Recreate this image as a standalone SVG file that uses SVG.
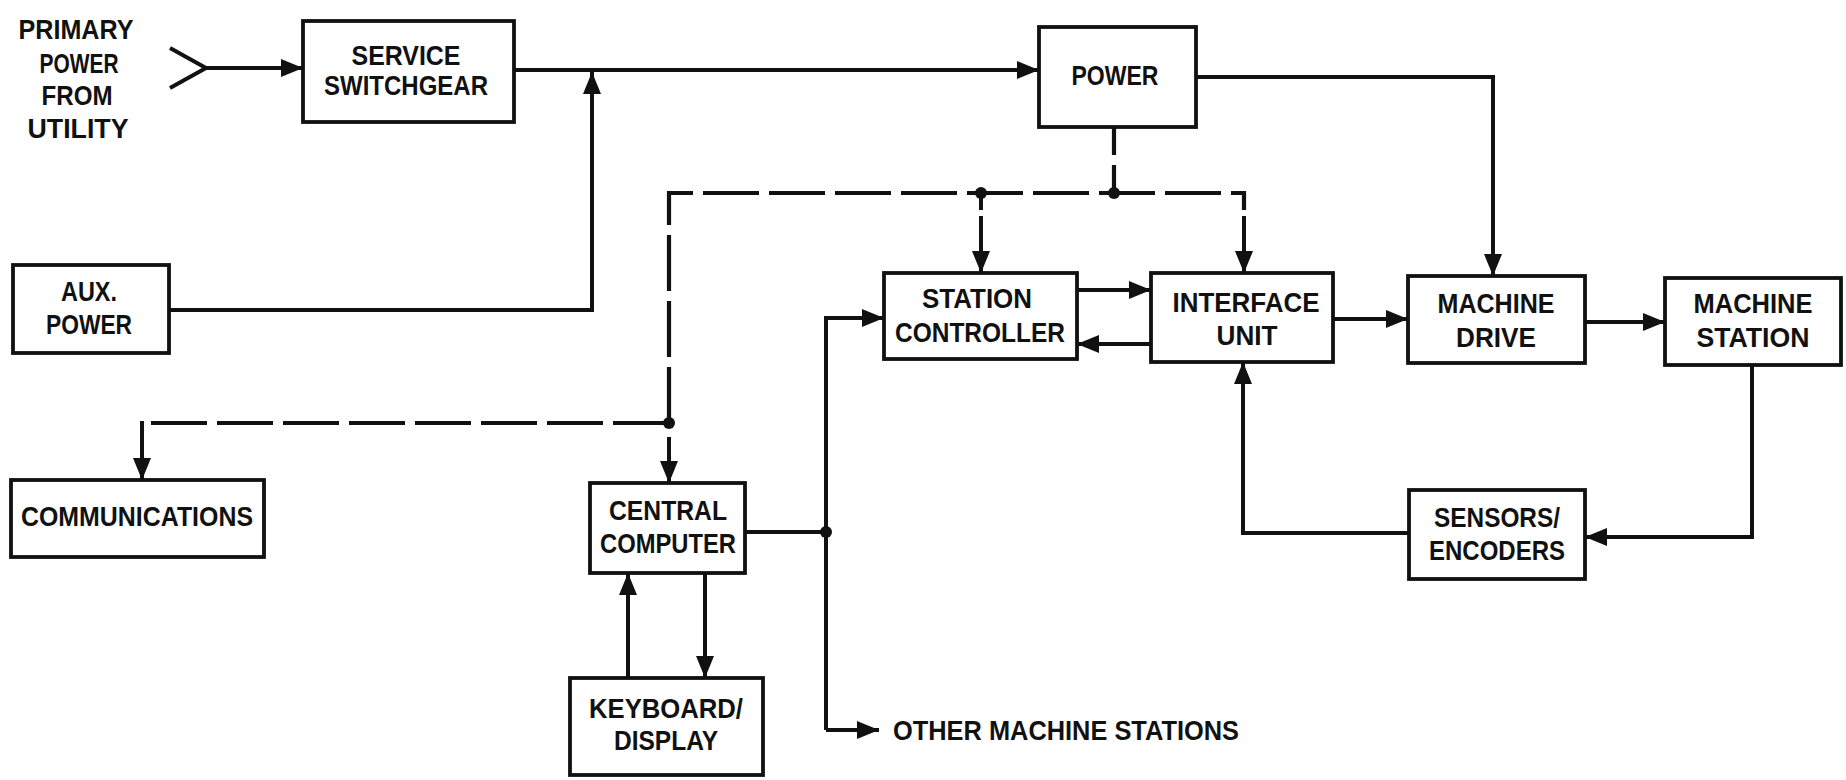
<svg xmlns="http://www.w3.org/2000/svg" width="1846" height="780" viewBox="0 0 1846 780">
<style>
.box{fill:#fff;stroke:#111;stroke-width:3.8}
.ln{fill:none;stroke:#111;stroke-width:4;stroke-linejoin:miter}
.dash{fill:none;stroke:#111;stroke-width:4.2;stroke-dasharray:56 10}
.t{font-family:"Liberation Sans",Arial,sans-serif;font-weight:bold;font-size:28px;fill:#111;text-anchor:middle}
.dot{fill:#111}
</style>
<defs>
<marker id="ah" viewBox="0 0 22 18" refX="22" refY="9" markerWidth="22" markerHeight="18" markerUnits="userSpaceOnUse" orient="auto">
<path d="M0,0 L22,9 L0,18 z" fill="#111"/>
</marker>
</defs>
<rect width="1846" height="780" fill="#fff"/>

<g id="connectors">
<path class="ln" d="M170,48 L206,68 L170,88"/>
<path class="ln" d="M206,68 H303" marker-end="url(#ah)"/>
<path class="ln" d="M514,70 H1039" marker-end="url(#ah)"/>
<path class="ln" d="M169,310 H592 V72" marker-end="url(#ah)"/>
<path class="ln" d="M1196,77 H1493 V276" marker-end="url(#ah)"/>
<path class="ln" d="M1077,290 H1151" marker-end="url(#ah)"/>
<path class="ln" d="M1151,344 H1077" marker-end="url(#ah)"/>
<path class="ln" d="M1333,319 H1408" marker-end="url(#ah)"/>
<path class="ln" d="M1585,322 H1665" marker-end="url(#ah)"/>
<path class="ln" d="M1752,365 V537 H1585" marker-end="url(#ah)"/>
<path class="ln" d="M1409,533 H1243 V362" marker-end="url(#ah)"/>
<path class="ln" d="M745,532 H826"/>
<path class="ln" d="M826,730 V318 H884" marker-end="url(#ah)"/>
<path class="ln" d="M826,730 H879" marker-end="url(#ah)"/>
<path class="ln" d="M705,573 V678" marker-end="url(#ah)"/>
<path class="ln" d="M628,678 V573" marker-end="url(#ah)"/>
<path class="dash" style="stroke-dasharray:28 10" d="M1114,127 V193"/>
<path class="dash" d="M669,423 V193 H1244 V210"/>
<path class="ln" d="M1244,216 V273" marker-end="url(#ah)"/>
<path class="ln" d="M981,193 V210"/>
<path class="ln" d="M981,216 V273" marker-end="url(#ah)"/>
<path class="dash" d="M669,423 H142"/>
<path class="ln" d="M142,421 V480" marker-end="url(#ah)"/>
<path class="ln" d="M669,437 V483" marker-end="url(#ah)"/>
<circle class="dot" cx="1114" cy="193" r="6"/>
<circle class="dot" cx="981" cy="193" r="6"/>
<circle class="dot" cx="669" cy="423" r="6"/>
<circle class="dot" cx="826" cy="532" r="6"/>
</g>

<g id="primary-power">
<text class="t" x="76" y="39" textLength="115" lengthAdjust="spacingAndGlyphs">PRIMARY</text>
<text class="t" x="79" y="73" textLength="79" lengthAdjust="spacingAndGlyphs">POWER</text>
<text class="t" x="77" y="105" textLength="71" lengthAdjust="spacingAndGlyphs">FROM</text>
<text class="t" x="78" y="138" textLength="101" lengthAdjust="spacingAndGlyphs">UTILITY</text>
</g>

<g id="service-switchgear">
<rect class="box" x="303" y="21" width="211" height="101"/>
<text class="t" x="406" y="65" textLength="109" lengthAdjust="spacingAndGlyphs">SERVICE</text>
<text class="t" x="406" y="95" textLength="164" lengthAdjust="spacingAndGlyphs">SWITCHGEAR</text>
</g>

<g id="aux-power">
<rect class="box" x="13" y="265" width="156" height="88"/>
<text class="t" x="89" y="301" textLength="56" lengthAdjust="spacingAndGlyphs">AUX.</text>
<text class="t" x="89" y="334" textLength="86" lengthAdjust="spacingAndGlyphs">POWER</text>
</g>

<g id="power">
<rect class="box" x="1039" y="27" width="157" height="100"/>
<text class="t" x="1115" y="85" textLength="87" lengthAdjust="spacingAndGlyphs">POWER</text>
</g>

<g id="station-controller">
<rect class="box" x="884" y="273" width="193" height="86"/>
<text class="t" x="977" y="308" textLength="110" lengthAdjust="spacingAndGlyphs">STATION</text>
<text class="t" x="980" y="342" textLength="170" lengthAdjust="spacingAndGlyphs">CONTROLLER</text>
</g>

<g id="interface-unit">
<rect class="box" x="1151" y="273" width="182" height="89"/>
<text class="t" x="1246" y="312" textLength="147" lengthAdjust="spacingAndGlyphs">INTERFACE</text>
<text class="t" x="1247" y="345" textLength="61" lengthAdjust="spacingAndGlyphs">UNIT</text>
</g>

<g id="machine-drive">
<rect class="box" x="1408" y="276" width="177" height="87"/>
<text class="t" x="1496" y="313" textLength="117" lengthAdjust="spacingAndGlyphs">MACHINE</text>
<text class="t" x="1496" y="347" textLength="80" lengthAdjust="spacingAndGlyphs">DRIVE</text>
</g>

<g id="machine-station">
<rect class="box" x="1665" y="278" width="176" height="87"/>
<text class="t" x="1753" y="313" textLength="119" lengthAdjust="spacingAndGlyphs">MACHINE</text>
<text class="t" x="1753" y="347" textLength="113" lengthAdjust="spacingAndGlyphs">STATION</text>
</g>

<g id="sensors-encoders">
<rect class="box" x="1409" y="490" width="176" height="89"/>
<text class="t" x="1497" y="527" textLength="126" lengthAdjust="spacingAndGlyphs">SENSORS/</text>
<text class="t" x="1497" y="560" textLength="136" lengthAdjust="spacingAndGlyphs">ENCODERS</text>
</g>

<g id="communications">
<rect class="box" x="11" y="480" width="253" height="77"/>
<text class="t" x="137" y="526" textLength="232" lengthAdjust="spacingAndGlyphs">COMMUNICATIONS</text>
</g>

<g id="central-computer">
<rect class="box" x="590" y="483" width="155" height="90"/>
<text class="t" x="668" y="520" textLength="118" lengthAdjust="spacingAndGlyphs">CENTRAL</text>
<text class="t" x="668" y="553" textLength="136" lengthAdjust="spacingAndGlyphs">COMPUTER</text>
</g>

<g id="keyboard-display">
<rect class="box" x="570" y="678" width="193" height="97"/>
<text class="t" x="666" y="718" textLength="154" lengthAdjust="spacingAndGlyphs">KEYBOARD/</text>
<text class="t" x="666" y="750" textLength="104" lengthAdjust="spacingAndGlyphs">DISPLAY</text>
</g>

<g id="other-machine-stations">
<text class="t" x="893" y="740" style="text-anchor:start" textLength="346" lengthAdjust="spacingAndGlyphs">OTHER MACHINE STATIONS</text>
</g>
</svg>
